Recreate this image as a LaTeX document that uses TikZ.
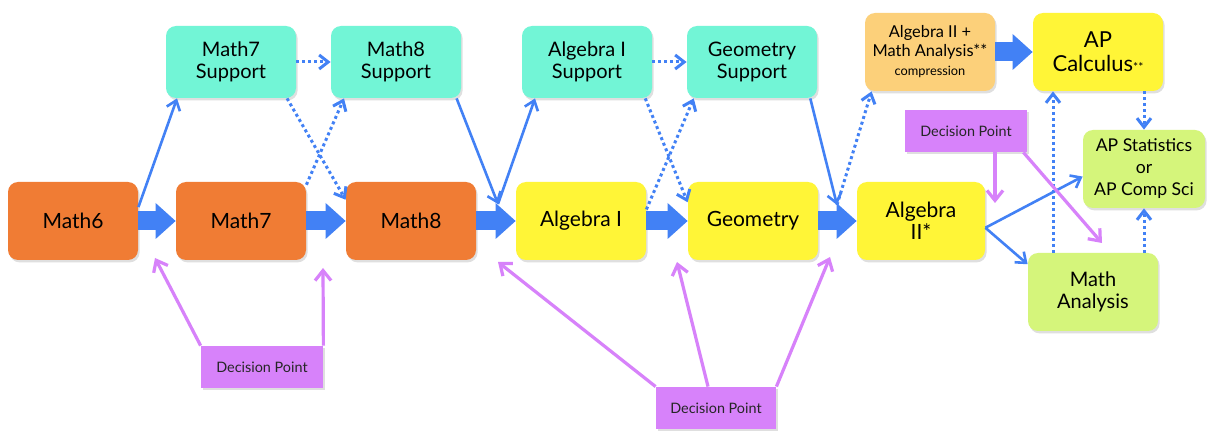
\documentclass[tikz,border=0pt]{standalone}
\usepackage{fontspec}
\setmainfont{Lato}
\usetikzlibrary{arrows.meta,shadows}
\definecolor{orangebox}{RGB}{240,124,52}
\definecolor{mintbox}{RGB}{114,245,214}
\definecolor{yellowbox}{RGB}{255,245,55}
\definecolor{peachbox}{RGB}{252,208,122}
\definecolor{limebox}{RGB}{213,245,123}
\definecolor{violetbox}{RGB}{215,130,250}
\definecolor{pathblue}{RGB}{66,129,245}
\begin{document}
\begin{tikzpicture}[x=0.5pt,y=-0.5pt,
  course/.style={rounded corners=5pt,minimum width=65pt,minimum height=39pt,align=center,inner sep=2pt,
    drop shadow={shadow xshift=0.8pt,shadow yshift=-1.2pt,opacity=0.25}},
  core/.style={course,fill=orangebox,font=\fontsize{10.5}{12}\selectfont},
  support/.style={course,fill=mintbox,minimum height=36pt,font=\fontsize{10}{11}\selectfont},
  upper/.style={course,fill=yellowbox,font=\fontsize{10.5}{11}\selectfont},
  elective/.style={course,fill=limebox,font=\fontsize{10}{11}\selectfont},
  decision/.style={fill=violetbox,minimum width=61pt,minimum height=21pt,inner sep=1pt,
    text=black!85,font=\fontsize{7.2}{8}\selectfont,
    drop shadow={shadow xshift=0.8pt,shadow yshift=-1.2pt,opacity=0.25}},
  bigarrow/.style={pathblue,line width=9.5pt,-{Triangle[length=10pt,width=18pt,line width=0pt]}},
  thinarrow/.style={pathblue,line width=1.3pt,-{Straight Barb[length=4.5pt,width=7pt]}},
  dotarrow/.style={thinarrow,line width=1.5pt,dash pattern=on 1.5pt off 1.5pt},
  dparrow/.style={violetbox,line width=1.6pt,-{Straight Barb[length=5pt,width=8pt]}}]
\fill[white] (0,0) rectangle (1207,433);
\useasboundingbox (0,0) rectangle (1207,433);

\node (math6) at (73,221) [core]{Math6};
\node (math7) at (241,221) [core]{Math7};
\node (math8) at (411,221) [core]{Math8};
\node (alg1) at (581,221) [upper]{Algebra I};
\node (geom) at (753,221) [upper]{Geometry};
\node (alg2) at (921,221) [upper,minimum width=64pt]{Algebra\\II*};

\node (m7sup) at (231,62) [support]{Math7\\Support};
\node (m8sup) at (396,62) [support]{Math8\\Support};
\node (a1sup) at (587,62) [support]{Algebra I\\Support};
\node (gsup) at (752,62) [support]{Geometry\\Support};

\node (comp) at (930,52) [course,fill=peachbox,font=\fontsize{8.2}{9.5}\selectfont]{Algebra II +\\Math Analysis**\\{\fontsize{6.4}{7}\selectfont compression}};
\node (apcalc) at (1098,52) [upper,font=\fontsize{11}{12}\selectfont]{AP\\Calculus{\fontsize{6}{6}\selectfont**}};
\node (apstat) at (1144,169) [elective,minimum width=61pt,font=\fontsize{8.8}{11}\selectfont]{AP Statistics\\or\\AP Comp Sci};
\node (manal) at (1093,292) [elective]{Math\\Analysis};

\node (dpleft) at (262,367) [decision]{Decision Point};
\node (dpmid) at (716,408) [decision,minimum width=60pt]{Decision Point};
\node (dpright) at (966,131) [decision]{Decision Point};

\coordinate (j1) at (498,204);
\coordinate (j2) at (837,205);
\coordinate (gap67) at (155,258);
\coordinate (gap78) at (323,268);
\coordinate (gap8a) at (498,262);
\coordinate (gapag) at (677,262);
\coordinate (gapg2) at (830,257);
\coordinate (gap2x) at (995,203);
\coordinate (gapma) at (1102,243);
\coordinate (manalup) at ([xshift=-20pt]manal.north);

\draw[bigarrow] (math6)--(math7);
\draw[bigarrow] (math7)--(math8);
\draw[bigarrow] (math8)--(alg1);
\draw[bigarrow] (alg1)--(geom);
\draw[bigarrow] (geom)--(alg2);
\draw[bigarrow] (comp)--(apcalc);

\draw[thinarrow] (math6.12)--(m7sup.214);
\draw[thinarrow] (m8sup.329)--(j1);
\draw[thinarrow] (j1)--(a1sup.215);
\draw[thinarrow] (gsup.328)--(j2);
\draw[thinarrow] (alg2.354)--(apstat.187);
\draw[thinarrow] (alg2.354)--(manal.157);

\draw[dotarrow] (m7sup)--(m8sup);
\draw[dotarrow] (m7sup.327)--(math8.162);
\draw[dotarrow] (math7.29)--(m8sup.215);
\draw[dotarrow] (a1sup)--(gsup);
\draw[dotarrow] (a1sup.328)--(geom.164);
\draw[dotarrow] (alg1.10)--(gsup.212);
\draw[dotarrow] (j2)--(comp.214);
\draw[dotarrow] (apstat.north |- apcalc.south)--(apstat.north);
\draw[dotarrow] (manalup)--(manalup |- apcalc.south);
\draw[dotarrow] (apstat.south |- manal.north)--(apstat.south);

\draw[dparrow] (dpleft.north west)--(gap67);
\draw[dparrow] (dpleft.north east)--(gap78);
\draw[dparrow] (dpmid.north west)--(gap8a);
\draw[dparrow] ([xshift=-4pt]dpmid.north)--(gapag);
\draw[dparrow] (dpmid.north east)--(gapg2);
\draw[dparrow] ([xshift=14.5pt]dpright.south)--(gap2x);
\draw[dparrow] ([xshift=-2pt]dpright.south east)--(gapma);
\end{tikzpicture}
\end{document}
